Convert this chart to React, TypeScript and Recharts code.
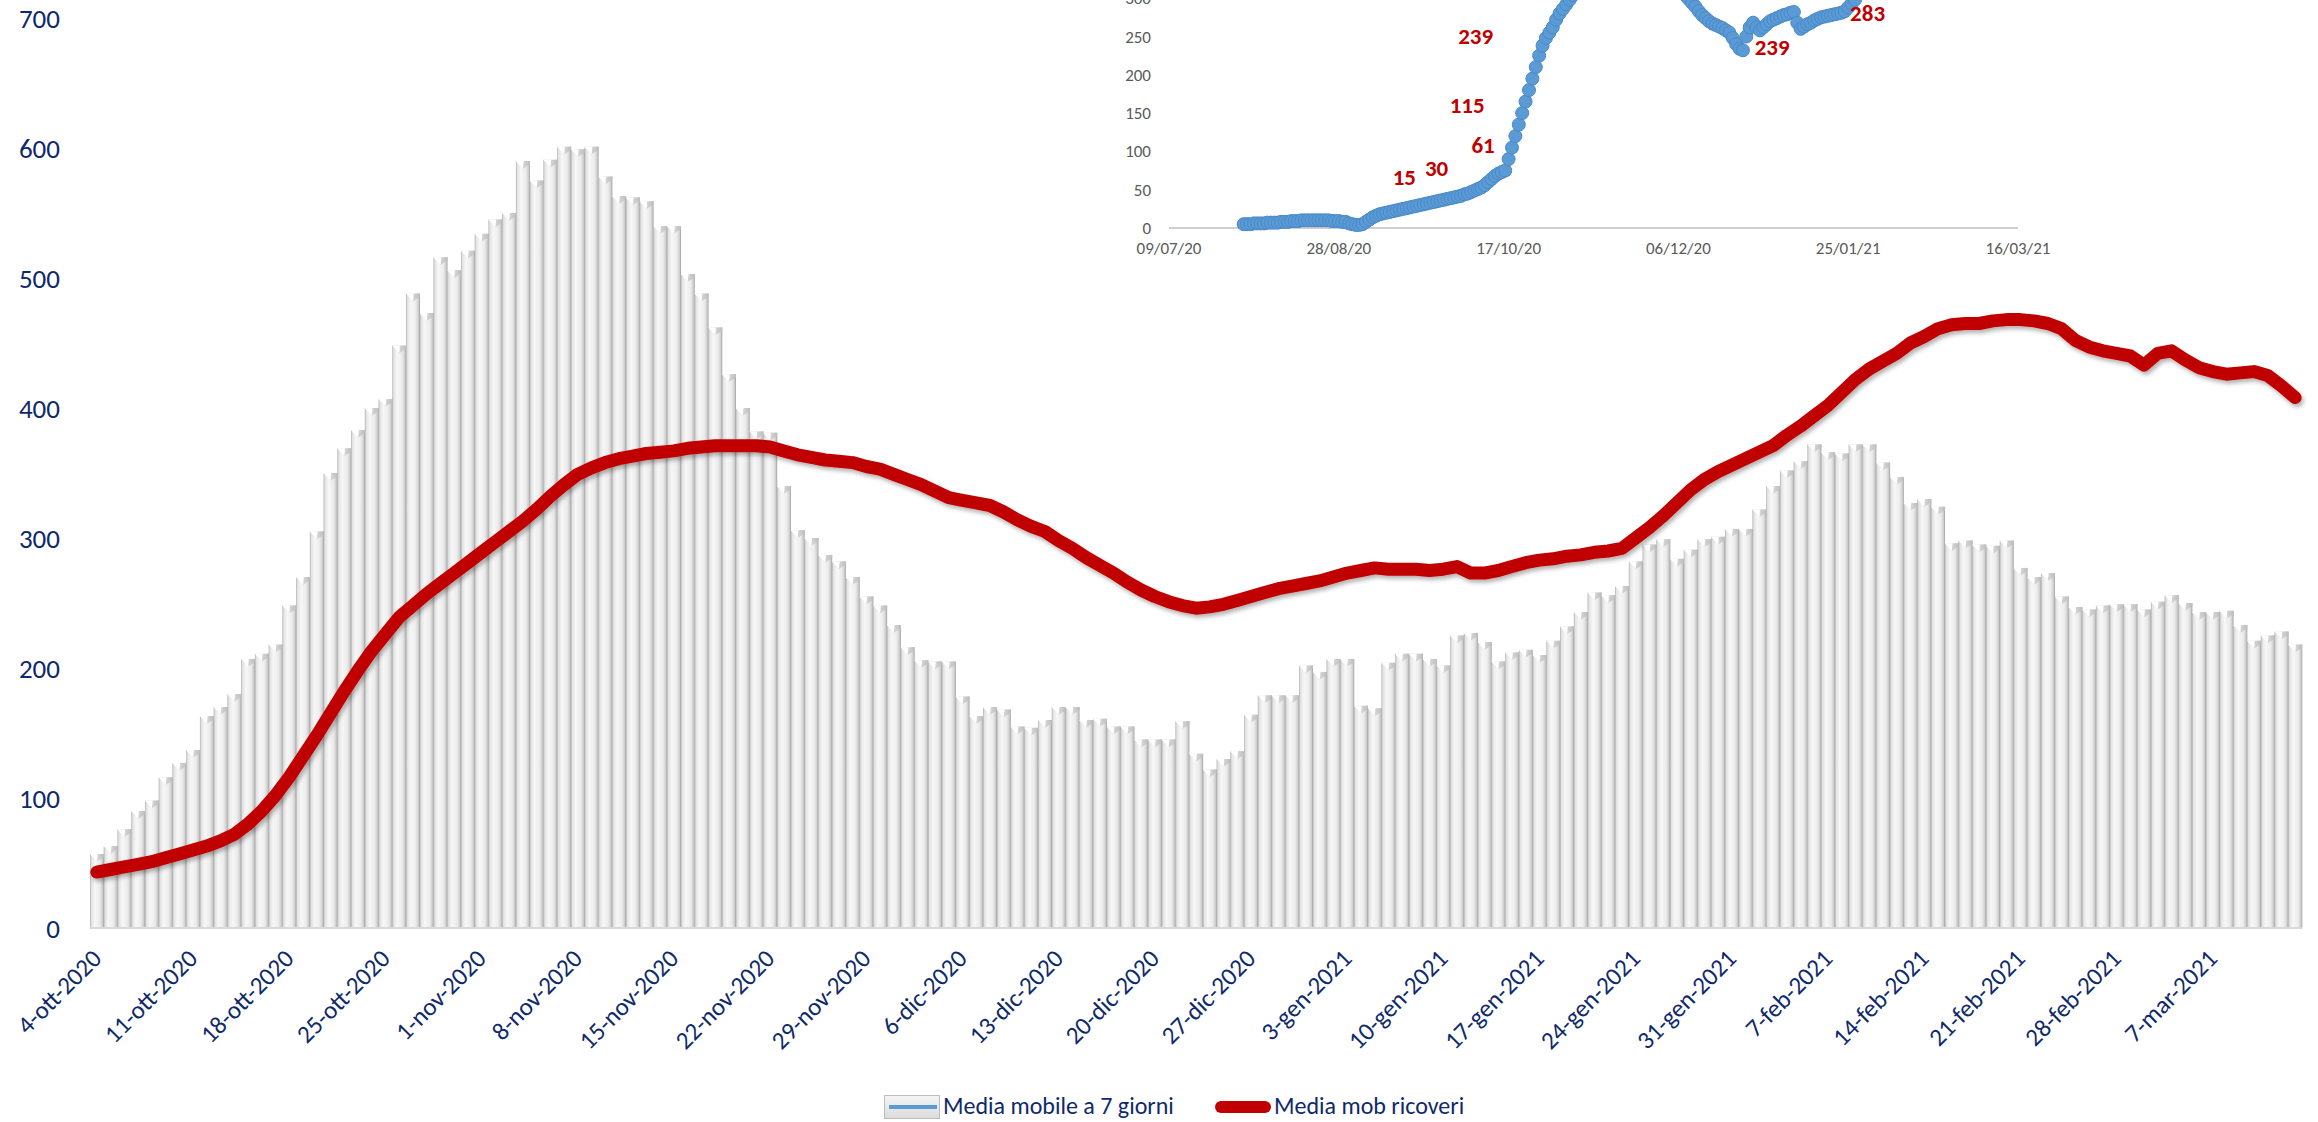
import React from 'react';
import { ComposedChart, Bar, Line, XAxis, YAxis, ScatterChart, Scatter } from 'recharts';

const FONT = "Carlito, Calibri, Lato, 'Noto Sans', sans-serif";
const NAVY = '#0f2a6b';

// ---------- main chart data (daily, 4-ott-2020 .. 13-mar-2021) ----------
const MONTHS_IT = ['gen', 'feb', 'mar', 'apr', 'mag', 'giu', 'lug', 'ago', 'set', 'ott', 'nov', 'dic'];
const START = { y: 2020, m: 9, d: 4 };

const mediaMobile7 = [
  57, 63, 76, 90, 98, 116, 127, 137, 163, 170,
  180, 207, 211, 218, 248, 270, 305, 350, 369, 383,
  400, 407, 448, 488, 473, 516, 506, 521, 534, 545,
  550, 590, 575, 591, 601, 599, 601, 578, 563, 562,
  559, 540, 540, 503, 488, 462, 426, 400, 382, 381,
  340, 306, 300, 287, 282, 270, 255, 248, 233, 216,
  206, 205, 205, 178, 163, 170, 168, 155, 154, 160,
  170, 170, 160, 161, 155, 155, 145, 145, 145, 159,
  134, 122, 130, 136, 164, 179, 179, 179, 202, 197,
  207, 207, 171, 169, 204, 211, 211, 207, 202, 225,
  227, 220, 205, 212, 214, 210, 221, 232, 243, 258,
  256, 263, 282, 295, 299, 284, 291, 299, 301, 307,
  307, 322, 340, 352, 359, 372, 366, 365, 372, 372,
  358, 347, 327, 330, 324, 296, 298, 295, 294, 298,
  277, 270, 273, 255, 247, 245, 248, 249, 249, 245,
  251, 256, 250, 243, 243, 244, 233, 221, 225, 228,
  218,
];

const mediaMobRicoveri = [
  43, 45, 47, 49, 51, 54, 57, 60, 63, 67,
  72, 80, 90, 102, 116, 132, 148, 165, 182, 198,
  213, 226, 239, 248, 257, 265, 273, 281, 289, 297,
  305, 313, 322, 332, 341, 349, 354, 358, 361, 363,
  365, 366, 367, 369, 370, 371, 371, 371, 371, 370,
  367, 364, 362, 360, 359, 358, 355, 353, 349, 345,
  341, 336, 331, 329, 327, 325, 320, 314, 309, 305,
  298, 292, 285, 279, 273, 266, 260, 255, 251, 248,
  246, 247, 249, 252, 255, 258, 261, 263, 265, 267,
  270, 273, 275, 277, 276, 276, 276, 275, 276, 278,
  273, 273, 275, 278, 281, 283, 284, 286, 287, 289,
  290, 292, 300, 308, 317, 327, 337, 345, 351, 356,
  361, 366, 371, 379, 386, 394, 402, 412, 422, 430,
  436, 442, 450, 455, 461, 464, 465, 465, 467, 468,
  468, 467, 465, 461, 452, 447, 444, 442, 440, 433,
  442, 444, 437, 431, 428, 426, 427, 428, 425, 417,
  408,
];

const yTicks = [0, 100, 200, 300, 400, 500, 600, 700];

const categories = mediaMobile7.map((_, i) => {
  const dt = new Date(START.y, START.m, START.d + i);
  return `${dt.getDate()}-${MONTHS_IT[dt.getMonth()]}-${dt.getFullYear()}`;
});

const mainData = categories.map((date, i) => ({
  date,
  mm7: mediaMobile7[i],
  ric: mediaMobRicoveri[i],
}));

// ---------- inset data (daily from 31/07/20; x = days since 09/07/20) ----------
const insetFirstDay = 22; // 31/07/20
const insetValues = [
  5, 5, 5, 6, 6, 6, 6, 7, 7, 7, 7, 8, 8, 8, 9,
  9, 9, 10, 10, 10, 10, 10, 10, 10, 10, 10, 9, 9, 9, 8, 8,
  6, 5, 4, 4, 5,
  8, 11, 14, 16, 18,
  19, 20, 21, 22, 23, 24, 25, 26, 27, 28, 29, 30,
  31, 32, 33, 34, 35, 36, 37, 38, 39, 40, 41,
  42, 44, 45, 47, 49, 51, 53,
  56, 60, 64, 68, 71, 73, 75,
  90, 105, 120, 135, 150, 165, 180, 195, 210, 225, 238, 248, 255, 262, 272, 280, 286, 292, 298, 304,
  312, 320, 328, 336, 344, 350, 356, 362, 366, 370, 373, 375, 377, 378, 378, 377, 376, 374, 371, 368,
  364, 360, 356, 351, 346, 341, 336, 330, 324, 318, 313, 308, 304,
  299, 294, 289,
  283, 278, 274, 270, 267,
  265, 263, 261, 258, 255,
  248, 240, 234, 232,
  250, 262, 268, 262,
  258, 262,
  266, 270, 272, 274,
  276, 278, 279, 281, 282,
  268, 260, 263,
  266, 268, 271, 273, 275, 276,
  277, 278, 279, 280, 281, 283,
  288, 293, 298,
];
const insetData = insetValues.map((v, i) => ({ day: insetFirstDay + i, value: v }));

const insetXTicks = [0, 50, 100, 150, 200, 250];
const insetXTickLabels = ['09/07/20', '28/08/20', '17/10/20', '06/12/20', '25/01/21', '16/03/21'];
const insetYTicks = [0, 50, 100, 150, 200, 250, 300];

const insetLabelTexts = ['15', '30', '61', '115', '239', '239', '283'];
const insetLabelDays = [69.3, 78.8, 92.5, 87.8, 90.3, 177.6, 205.7];
const insetLabelValues = [66.6, 78, 108, 160.6, 250.6, 236, 280.7];
const insetLabels = insetLabelTexts.map((t, i) => ({ day: insetLabelDays[i], value: insetLabelValues[i], text: t }));

// ---------- shapes ----------
const BarShape = (props: any) => {
  const { x, y, width, height } = props;
  if (height == null || height <= 0) return null;
  const cap = Math.min(width * 0.55, height);
  return (
    <g>
      <rect x={x} y={y} width={width} height={height} fill="url(#barGrad)" />
      <polygon points={`${x},${y} ${x + width},${y} ${x + width},${y + cap * 0.4} ${x + width / 2},${y + cap}`} fill="url(#capGrad)" />
      <polygon points={`${x},${y} ${x + width * 0.55},${y} ${x + width / 2},${y + cap}`} fill="#ffffff" />
    </g>
  );
};

const XTick = (props: any) => {
  const { x, y, payload } = props;
  return (
    <g transform={`translate(${x + 6},${y + 24})`}>
      <text textAnchor="end" transform="rotate(-45)" fill={NAVY} fontSize={25} fontFamily={FONT}>
        {payload.value}
      </text>
    </g>
  );
};

const Dot = (props: any) => {
  const { cx, cy } = props;
  return <circle cx={cx} cy={cy} r={6.5} fill="#5b9bd5" stroke="#4a88c9" strokeWidth={1} />;
};

const LabelShape = (props: any) => {
  const { cx, cy, payload } = props;
  return (
    <text x={cx} y={cy} textAnchor="middle" dominantBaseline="central" fill="#c00000" fontWeight="bold" fontSize={23} fontFamily={FONT}>
      {payload.text}
    </text>
  );
};

export default function App() {
  return (
    <div style={{ position: 'absolute', left: 0, top: 0, width: 2318, height: 1122, overflow: 'hidden', background: '#ffffff', fontFamily: FONT }}>
      <div style={{ position: 'absolute', left: 0, top: 0 }}>
        <ComposedChart width={2318} height={1122} data={mainData} margin={{ top: 18, right: 16, bottom: 74, left: 0 }} barCategoryGap={0} barGap={0}>
          <defs>
            <linearGradient id="barGrad" x1="0" y1="0" x2="1" y2="0">
              <stop offset="0" stopColor="#b0b0b0" />
              <stop offset="0.1" stopColor="#e2e2e2" />
              <stop offset="0.35" stopColor="#f7f7f7" />
              <stop offset="0.7" stopColor="#ececec" />
              <stop offset="0.9" stopColor="#cdcdcd" />
              <stop offset="1" stopColor="#9c9c9c" />
            </linearGradient>
            <linearGradient id="capGrad" x1="0" y1="0" x2="1" y2="0">
              <stop offset="0" stopColor="#f0f0f0" />
              <stop offset="1" stopColor="#bdbdbd" />
            </linearGradient>
            <filter id="lineShadow" x="-2%" y="-5%" width="104%" height="115%">
              <feDropShadow dx="2" dy="3" stdDeviation="2" floodColor="#000000" floodOpacity="0.3" />
            </filter>
          </defs>
          <XAxis
            dataKey="date"
            interval={6}
            tick={<XTick />}
            tickLine={false}
            axisLine={{ stroke: '#d9d9d9', strokeWidth: 2 }}
            height={120}
          />
          <YAxis
            domain={[0, 700]}
            ticks={yTicks}
            interval={0}
            axisLine={false}
            tickLine={false}
            width={90}
            tickMargin={24}
            tick={{ fill: NAVY, fontSize: 27, fontFamily: FONT }}
          />
          <Bar dataKey="mm7" shape={BarShape} isAnimationActive={false} />
          <Line
            dataKey="ric"
            type="linear"
            stroke="#c00000"
            strokeWidth={13}
            strokeLinecap="round"
            strokeLinejoin="round"
            dot={false}
            activeDot={false}
            filter="url(#lineShadow)"
            isAnimationActive={false}
          />
        </ComposedChart>
      </div>

      <div style={{ position: 'absolute', left: 1109, top: -140 }}>
        <ScatterChart width={949} height={420} margin={{ top: 23.3, right: 40, bottom: 12, left: 0 }}>
          <XAxis
            type="number"
            dataKey="day"
            domain={[0, 250]}
            ticks={insetXTicks}
            interval={0}
            tickFormatter={(v: number) => insetXTickLabels[insetXTicks.indexOf(v)]}
            tickLine={false}
            axisLine={{ stroke: '#bfbfbf', strokeWidth: 1.5 }}
            tickMargin={8}
            height={40}
            tick={{ fill: '#595959', fontSize: 17, fontFamily: FONT }}
          />
          <YAxis
            type="number"
            dataKey="value"
            domain={[0, 450]}
            ticks={insetYTicks}
            interval={0}
            axisLine={false}
            tickLine={false}
            width={60}
            tickMargin={12}
            tick={{ fill: '#595959', fontSize: 17, fontFamily: FONT }}
          />
          <Scatter data={insetData} shape={Dot} isAnimationActive={false} />
          <Scatter data={insetLabels} shape={LabelShape} isAnimationActive={false} />
        </ScatterChart>
      </div>

      <div style={{ position: 'absolute', left: 884, top: 1095, width: 56, height: 24, boxSizing: 'border-box', border: '1px solid #bdbdbd', background: 'linear-gradient(#f4f4f4, #dcdcdc)' }}>
        <div style={{ position: 'absolute', left: 4, right: 2, top: 9, height: 4, background: '#5b9bd5' }} />
      </div>
      <div style={{ position: 'absolute', left: 943, top: 1091, fontSize: 24, lineHeight: '30px', color: NAVY, whiteSpace: 'nowrap' }}>
        Media mobile a 7 giorni
      </div>
      <div style={{ position: 'absolute', left: 1215, top: 1101, width: 56, height: 12, borderRadius: 6, background: '#c00000' }} />
      <div style={{ position: 'absolute', left: 1274, top: 1091, fontSize: 24, lineHeight: '30px', color: NAVY, whiteSpace: 'nowrap' }}>
        Media mob ricoveri
      </div>
    </div>
  );
}
